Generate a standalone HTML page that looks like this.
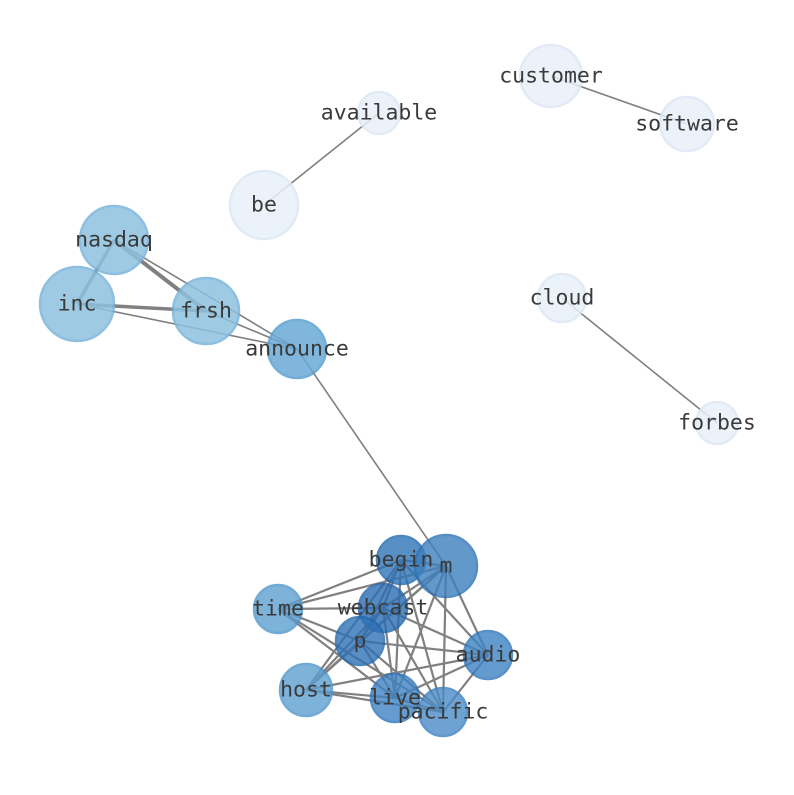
<!DOCTYPE html><html><head><style>body{margin:0;background:#fff}svg text{font-family:"DejaVu Sans Mono","Liberation Mono",monospace;font-size:21.5px;fill:#3a3a3a;text-anchor:middle;dominant-baseline:central}</style></head><body>
<svg width="794" height="790" xmlns="http://www.w3.org/2000/svg">
<g stroke="#808080" stroke-width="1.6">
<line x1="264" y1="205" x2="379" y2="113"/>
<line x1="551" y1="76" x2="687" y2="124"/>
<line x1="562" y1="298" x2="717" y2="423"/>
<line x1="114" y1="240" x2="77" y2="304" stroke-width="3.5"/>
<line x1="114" y1="240" x2="206" y2="311" stroke-width="4"/>
<line x1="114" y1="240" x2="297" y2="349"/>
<line x1="77" y1="304" x2="206" y2="311" stroke-width="3.5"/>
<line x1="77" y1="304" x2="297" y2="349"/>
<line x1="206" y1="311" x2="297" y2="349"/>
<line x1="297" y1="349" x2="446" y2="566"/>
</g>
<g stroke="#808080" stroke-width="2.2">
<line x1="446" y1="566" x2="401" y2="560"/><line x1="446" y1="566" x2="383" y2="608"/><line x1="446" y1="566" x2="278" y2="609"/><line x1="446" y1="566" x2="360" y2="641"/><line x1="446" y1="566" x2="488" y2="655"/><line x1="446" y1="566" x2="306" y2="690"/><line x1="446" y1="566" x2="395" y2="698"/><line x1="446" y1="566" x2="443" y2="712"/>
<line x1="401" y1="560" x2="383" y2="608"/><line x1="401" y1="560" x2="278" y2="609"/><line x1="401" y1="560" x2="360" y2="641"/><line x1="401" y1="560" x2="488" y2="655"/><line x1="401" y1="560" x2="306" y2="690"/><line x1="401" y1="560" x2="395" y2="698"/><line x1="401" y1="560" x2="443" y2="712"/>
<line x1="383" y1="608" x2="278" y2="609"/><line x1="383" y1="608" x2="360" y2="641"/><line x1="383" y1="608" x2="488" y2="655"/><line x1="383" y1="608" x2="306" y2="690"/><line x1="383" y1="608" x2="395" y2="698"/><line x1="383" y1="608" x2="443" y2="712"/>
<line x1="278" y1="609" x2="360" y2="641"/><line x1="278" y1="609" x2="395" y2="698"/><line x1="278" y1="609" x2="443" y2="712"/>
<line x1="360" y1="641" x2="488" y2="655"/><line x1="360" y1="641" x2="306" y2="690"/><line x1="360" y1="641" x2="395" y2="698"/><line x1="360" y1="641" x2="443" y2="712"/>
<line x1="488" y1="655" x2="306" y2="690"/><line x1="488" y1="655" x2="395" y2="698"/><line x1="488" y1="655" x2="443" y2="712"/>
<line x1="306" y1="690" x2="395" y2="698"/><line x1="306" y1="690" x2="443" y2="712"/>
<line x1="395" y1="698" x2="443" y2="712"/>
</g>
<g stroke-width="2.5">
<circle cx="551" cy="76" r="31" fill="#e8f0f9" stroke="#dde8f4" opacity=".85"/>
<circle cx="687" cy="124" r="27" fill="#e8f0f9" stroke="#dde8f4" opacity=".85"/>
<circle cx="379" cy="113" r="21" fill="#e8f0f9" stroke="#dde8f4" opacity=".85"/>
<circle cx="264" cy="205" r="34" fill="#e8f0f9" stroke="#dde8f4" opacity=".85"/>
<circle cx="562" cy="298" r="24" fill="#e8f0f9" stroke="#dde8f4" opacity=".85"/>
<circle cx="717" cy="423" r="21" fill="#e8f0f9" stroke="#dde8f4" opacity=".85"/>
<circle cx="114" cy="240" r="34" fill="#8ec1df" stroke="#7ab5db" opacity=".85"/>
<circle cx="77" cy="304" r="37" fill="#8ec1df" stroke="#7ab5db" opacity=".85"/>
<circle cx="206" cy="311" r="33" fill="#8ec1df" stroke="#7ab5db" opacity=".85"/>
<circle cx="297" cy="349" r="29" fill="#6aaad5" stroke="#5aa0d0" opacity=".85"/>
<circle cx="278" cy="609" r="24" fill="#5d9fd0" stroke="#4e95cb" opacity=".8"/>
<circle cx="306" cy="690" r="26" fill="#5d9fd0" stroke="#4e95cb" opacity=".8"/>
<circle cx="395" cy="698" r="24" fill="#3f83c2" stroke="#2f75bb" opacity=".8"/>
<circle cx="443" cy="712" r="24" fill="#4a8cc7" stroke="#3a80c0" opacity=".8"/>
<circle cx="488" cy="655" r="24" fill="#3d83c3" stroke="#2f75bb" opacity=".8"/>
<circle cx="401" cy="560" r="24" fill="#2f75b8" stroke="#2068b0" opacity=".8"/>
<circle cx="446" cy="566" r="31" fill="#3d7fbf" stroke="#2f72b5" opacity=".8"/>
<circle cx="383" cy="608" r="24" fill="#2a6db2" stroke="#1f63ac" opacity=".8"/>
<circle cx="360" cy="641" r="24" fill="#2f72b6" stroke="#2068b0" opacity=".8"/>
</g>
<text x="551" y="76">customer</text><text x="687" y="124">software</text><text x="379" y="113">available</text><text x="264" y="205">be</text><text x="562" y="298">cloud</text><text x="717" y="423">forbes</text><text x="114" y="240">nasdaq</text><text x="77" y="304">inc</text><text x="206" y="311">frsh</text><text x="297" y="349">announce</text><text x="446" y="566">m</text><text x="401" y="560">begin</text><text x="383" y="608">webcast</text><text x="278" y="609">time</text><text x="360" y="641">p</text><text x="488" y="655">audio</text><text x="306" y="690">host</text><text x="395" y="698">live</text><text x="443" y="712">pacific</text>
</svg></body></html>
